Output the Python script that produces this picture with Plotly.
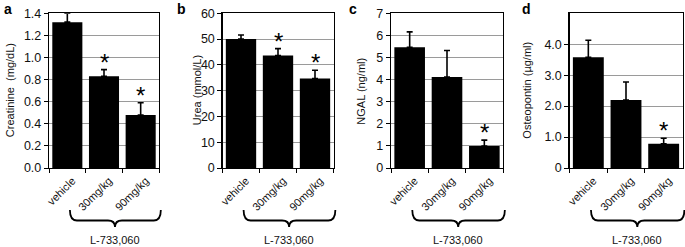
import plotly.graph_objects as go

# ---- data ----
categories = ["vehicle", "30mg/kg", "90mg/kg"]
panel_letters = ["a", "b", "c", "d"]
y_titles = ["Creatinine  (mg/dL)", "Urea (mmol/L)", "NGAL (ng/ml)", "Osteopontin (µg/ml)"]
creatinine = [1.32, 0.83, 0.48]
creatinine_err = [0.08, 0.06, 0.11]
urea = [50.0, 43.6, 34.7]
urea_err = [1.6, 2.7, 3.2]
ngal = [5.46, 4.12, 0.99]
ngal_err = [0.70, 1.20, 0.27]
osteopontin = [3.58, 2.20, 0.78]
osteopontin_err = [0.55, 0.58, 0.18]
significant = [[False, True, True], [False, True, True], [False, False, True], [False, False, True]]
group_label = "L-733,060"

y_ranges = [[0, 1.4], [0, 60], [0, 7], [0, 5]]
y_tickvals = [[0, 0.2, 0.4, 0.6, 0.8, 1.0, 1.2, 1.4],
              [0, 10, 20, 30, 40, 50, 60],
              [0, 1, 2, 3, 4, 5, 6, 7],
              [0, 1, 2, 3, 4]]
y_ticktext = [["0.0", "0.2", "0.4", "0.6", "0.8", "1.0", "1.2", "1.4"],
              ["0", "10", "20", "30", "40", "50", "60"],
              ["0", "1", "2", "3", "4", "5", "6", "7"],
              ["0", "1.0", "2.0", "3.0", "4.0"]]

values = [creatinine, urea, ngal, osteopontin]
errors = [creatinine_err, urea_err, ngal_err, osteopontin_err]

# ---- layout (pixels) ----
W, H = 685, 247
x_px = [(49, 159), (222.5, 333.5), (391, 503), (569.5, 682.5)]
y_top, y_bot = 13.3, 168
title_x_px = [9.5, 196.5, 361, 527]
letter_px = [(8, 9), (181, 9), (353, 9), (526, 9)]
FONT = "Liberation Sans, Arial, sans-serif"

def px(x):
    return x / W

def py(y):
    return 1 - y / H

fig = go.Figure()
shapes = []
annotations = []

for i in range(4):
    xa = "x" if i == 0 else f"x{i+1}"
    ya = "y" if i == 0 else f"y{i+1}"
    fig.add_trace(go.Bar(
        x=categories, y=values[i], xaxis=xa, yaxis=ya,
        marker=dict(color="black", line=dict(width=0)),
        error_y=dict(type="data", symmetric=False, array=errors[i],
                     arrayminus=[0, 0, 0], color="black", thickness=1.6, width=3),
        showlegend=False, hoverinfo="skip",
    ))
    d0, d1 = px(x_px[i][0]), px(x_px[i][1])
    axkey = "xaxis" if i == 0 else f"xaxis{i+1}"
    aykey = "yaxis" if i == 0 else f"yaxis{i+1}"
    fig.update_layout(**{
        axkey: dict(domain=[d0, d1], anchor=ya, type="category",
                    tickangle=-45, tickson="boundaries", ticks="outside", ticklen=4,
                    tickcolor="black", showline=True, linecolor="black", linewidth=1.2,
                    mirror=True, showgrid=False, automargin=False,
                    ticklabelshift=5, ticklabelstandoff=1,
                    tickfont=dict(family=FONT, size=11, color="#111")),
        aykey: dict(domain=[py(y_bot), py(y_top)], anchor=xa, range=y_ranges[i],
                    tickvals=y_tickvals[i], ticktext=y_ticktext[i],
                    ticks="outside", ticklen=4, tickcolor="black",
                    showline=True, linecolor="black", linewidth=1.2, mirror=True,
                    showgrid=True, gridcolor="#9a9a9a", gridwidth=1, zeroline=False,
                    automargin=False,
                    tickfont=dict(family=FONT, size=12.5, color="#111")),
    })
    # y-axis title
    annotations.append(dict(x=px(title_x_px[i]), y=py((y_top + y_bot) / 2),
                            xref="paper", yref="paper", text=y_titles[i], textangle=-90,
                            showarrow=False, font=dict(family=FONT, size=11, color="#111"),
                            xanchor="center", yanchor="middle"))
    # panel letter
    annotations.append(dict(x=px(letter_px[i][0]), y=py(letter_px[i][1]),
                            xref="paper", yref="paper", text=f"<b>{panel_letters[i]}</b>",
                            showarrow=False, font=dict(family=FONT, size=14, color="black"),
                            xanchor="center", yanchor="middle"))
    # significance stars
    for j, sig in enumerate(significant[i]):
        if sig:
            annotations.append(dict(x=categories[j], y=values[i][j] + errors[i][j],
                                    xref=xa, yref=ya, text="*", showarrow=False,
                                    font=dict(family=FONT, size=24, color="black"),
                                    xanchor="center", yanchor="bottom", yshift=-8))
    # brace under the drug groups
    def cat_x(idx):
        return d0 + (idx + 0.5) / 3 * (d1 - d0)
    xl, xr, xc = cat_x(0.07), cat_x(2.55), cat_x(1.3)
    yt, ym, yp = py(210), py(220.5), py(227)
    dx = px(7)
    path = (f"M {xl},{yt} Q {xl},{ym} {xl+dx},{ym} L {xc-dx},{ym} "
            f"Q {xc},{ym} {xc},{yp} Q {xc},{ym} {xc+dx},{ym} "
            f"L {xr-dx},{ym} Q {xr},{ym} {xr},{yt}")
    shapes.append(dict(type="path", path=path, xref="paper", yref="paper",
                       line=dict(color="black", width=1.8)))
    annotations.append(dict(x=xc, y=py(239.5), xref="paper", yref="paper",
                            text=group_label, showarrow=False,
                            font=dict(family=FONT, size=11, color="#111"),
                            xanchor="center", yanchor="middle"))

fig.update_layout(width=W, height=H, margin=dict(l=0, r=0, t=0, b=0),
                  paper_bgcolor="white", plot_bgcolor="white", bargap=0.18,
                  shapes=shapes, annotations=annotations)
fig.write_html("out.html", config={"displayModeBar": False, "staticPlot": True},
               post_script="document.body.style.margin='0';document.body.style.padding='0';")
